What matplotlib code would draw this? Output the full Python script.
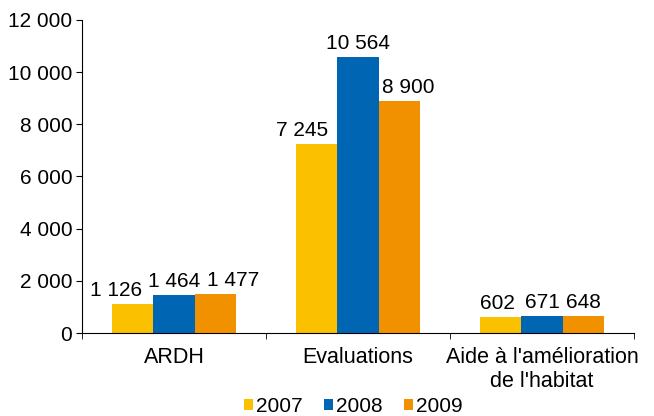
import numpy as np
import matplotlib
matplotlib.use('Agg')
import matplotlib.pyplot as plt
from matplotlib.ticker import FuncFormatter

categories = ['ARDH', 'Evaluations', "Aide à l'amélioration\nde l'habitat"]
years = ['2007', '2008', '2009']
v2007 = [1126, 7245, 602]
v2008 = [1464, 10564, 671]
v2009 = [1477, 8900, 648]
colors = ['#FBC000', '#0066B3', '#F29100']

# horizontal nudges (pixels) of the value labels, as in the original
label_dx = [[-17, -15, -4], [0, 0, 0], [18, 9, 0]]

def fmt(v):
    return f'{int(v):,}'.replace(',', ' ')

plt.rcParams['font.family'] = 'Liberation Sans'
fig = plt.figure(figsize=(6.54, 4.16), dpi=100)
ax = fig.add_axes([0.1254, 0.1995, 0.8440, 0.7525])

x = np.arange(len(categories))
w = 0.223
series = [v2007, v2008, v2009]
for i, vals in enumerate(series):
    bars = ax.bar(x + (i - 1) * w, vals, w, color=colors[i], label=years[i])
    for j, b in enumerate(bars):
        ax.annotate(fmt(vals[j]), (b.get_x() + b.get_width() / 2, b.get_height()),
                    xytext=(label_dx[i][j], 4), textcoords='offset pixels',
                    ha='center', va='bottom', fontsize=15)

ax.set_xlim(-0.5, 2.5)
ax.set_ylim(0, 12000)
ax.set_yticks(range(0, 12001, 2000))
ax.yaxis.set_major_formatter(FuncFormatter(lambda v, p: fmt(v)))
ax.tick_params(axis='y', labelsize=15, length=4, direction='out', pad=3)
ax.set_xticks(x)
ax.set_xticklabels(categories, fontsize=15.5, linespacing=1.2)
ax.tick_params(axis='x', which='major', length=0, pad=10)
ax.set_xticks([-0.5, 0.5, 1.5, 2.5], minor=True)
ax.tick_params(axis='x', which='minor', length=4, direction='out')
for s in ['top', 'right']:
    ax.spines[s].set_visible(False)

fig.legend(loc='lower center', bbox_to_anchor=(0.54, -0.045), ncol=3, frameon=False,
           fontsize=15, handlelength=0.45, handleheight=0.45, handletextpad=0.15,
           columnspacing=1.0)

fig.savefig('out.png', dpi=100)
